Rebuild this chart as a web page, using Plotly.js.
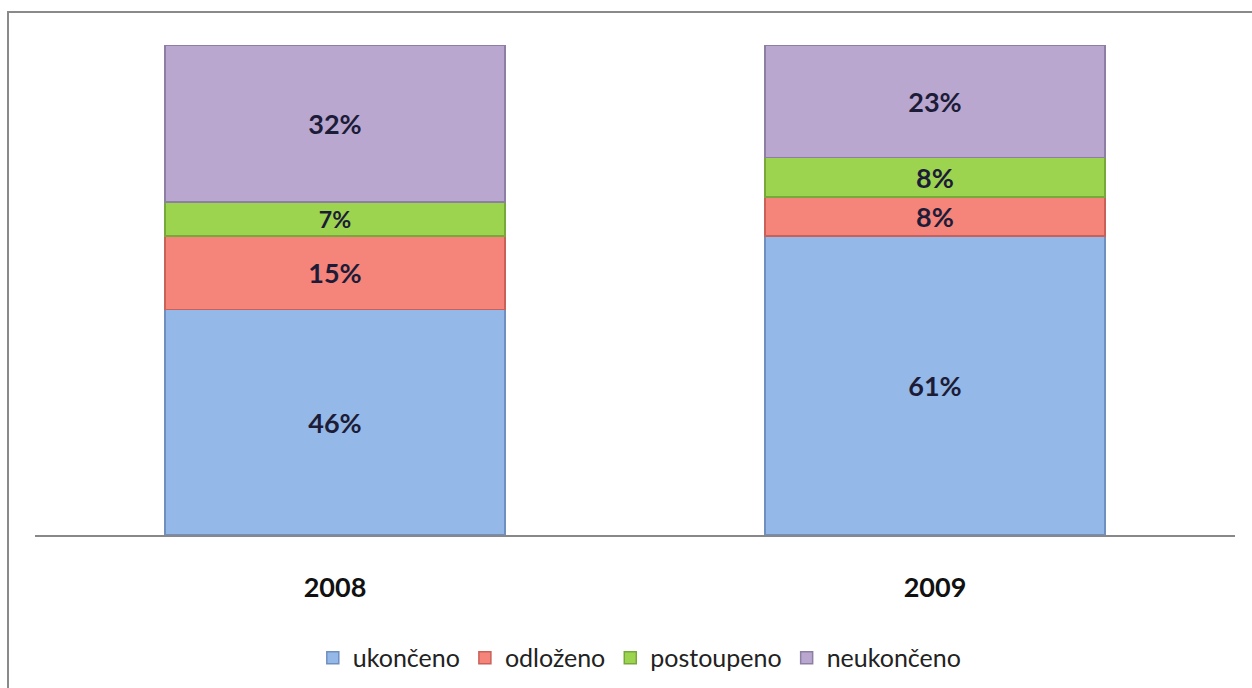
<!DOCTYPE html>
<html>
<head>
<meta charset="utf-8">
<script src="https://cdn.plot.ly/plotly-3.0.1.min.js"></script>
<style>html,body{margin:0;padding:0;background:#fff;}#chart{width:1252px;height:688px;}</style>
</head>
<body>
<div id="chart"></div>
<script>
const years = ['2008', '2009'];
const seriesNames = ['ukončeno', 'odloženo', 'postoupeno', 'neukončeno'];
const ukonceno = [46, 61];
const odlozeno = [15, 8];
const postoupeno = [7, 8];
const neukonceno = [32, 23];

const values = [ukonceno, odlozeno, postoupeno, neukonceno];
const colors = ['#94b8e7', '#f5847a', '#9dd44f', '#b9a7d0'];
const edge = ['#6f8fbf', '#c96158', '#76a83a', '#8d7fa3'];
const FONT = 'Lato, Open Sans, sans-serif';

const traces = seriesNames.map((name, i) => ({
  type: 'bar',
  name: name,
  x: years,
  y: values[i],
  text: values[i].map(v => v + '%'),
  textposition: 'inside',
  insidetextanchor: 'middle',
  textangle: 0,
  textfont: {family: FONT, size: 27, color: '#1c1c38', weight: 'bold'},
  marker: {color: colors[i], line: {color: edge[i], width: 1.5}},
  width: 0.567,
  hoverinfo: 'skip'
}));

const layout = {
  width: 1252, height: 688,
  margin: {l: 35, r: 17, t: 45, b: 153, autoexpand: false},
  barmode: 'stack',
  bargap: 0.433,
  paper_bgcolor: '#ffffff',
  plot_bgcolor: '#ffffff',
  showlegend: true,
  legend: {
    orientation: 'h', x: 0.504, xanchor: 'center', y: -0.251, yanchor: 'middle',
    font: {family: FONT, size: 25, color: '#222'},
    itemwidth: 30, traceorder: 'normal'
  },
  xaxis: {
    type: 'category',
    range: [-0.5, 1.5],
    showline: true, linecolor: '#888', linewidth: 1.5,
    showgrid: false, zeroline: false, ticks: '',
    ticklabelstandoff: 28,
    tickfont: {family: FONT, size: 27, color: '#111', weight: 'bold'}
  },
  yaxis: {
    range: [0, 100],
    visible: false, showgrid: false, zeroline: false, fixedrange: true
  },
  shapes: [{
    type: 'rect', xref: 'paper', yref: 'paper',
    x0: -0.0225, x1: 1.02, y0: -0.32, y1: 1.0673,
    line: {color: '#8a8a8a', width: 2}, fillcolor: 'rgba(0,0,0,0)', layer: 'below'
  }]
};

Plotly.newPlot('chart', traces, layout, {displayModeBar: false, staticPlot: true});
</script>
</body>
</html>
